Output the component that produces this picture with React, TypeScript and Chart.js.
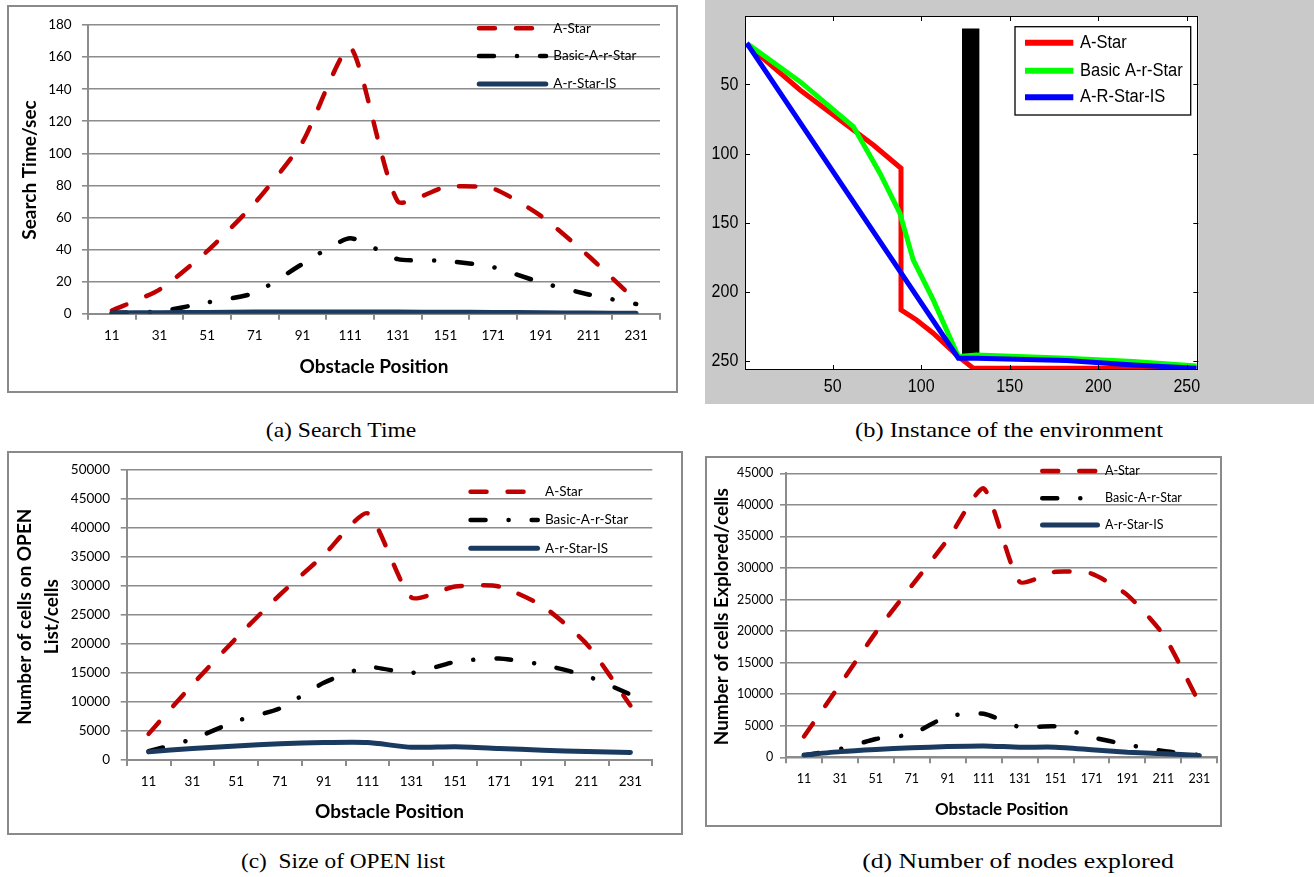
import React, { useEffect, useRef } from 'react';
import { Chart, registerables } from 'chart.js';

Chart.register(...registerables);

// ---------- shared category axis ----------
const obstaclePositions = ['11', '31', '51', '71', '91', '111', '131', '151', '171', '191', '211', '231'];
const excelSeriesNames = ['A-Star', 'Basic-A-r-Star', 'A-r-Star-IS'];

// (a) search time, seconds
const searchTimeAStar = [2, 15, 39, 69, 107, 166, 70, 79, 78, 61, 36, 8];
const searchTimeBasic = [0.5, 1.5, 7, 13, 31, 47, 34, 33, 29, 19.5, 12, 6];
const searchTimeIS = [0.5, 0.6, 0.8, 1, 1, 1, 1, 0.9, 0.8, 0.6, 0.4, 0.3];

// (c) cells on the OPEN list
const openAStar = [4500, 13000, 21000, 28500, 35300, 42500, 28000, 29900, 29900, 26500, 20000, 9400];
const openBasic = [1500, 3600, 6700, 8900, 13300, 16000, 15000, 16900, 17500, 16400, 14500, 11300];
const openIS = [1400, 2000, 2400, 2800, 3000, 3000, 2200, 2300, 2000, 1700, 1450, 1300];

// (d) cells explored
const exploredAStar = [3300, 11500, 19800, 27200, 34500, 42600, 27800, 29400, 29100, 25700, 19400, 8600];
const exploredBasic = [300, 1300, 2900, 3700, 6500, 6900, 4800, 4900, 3200, 2000, 1000, 350];
const exploredIS = [350, 900, 1250, 1500, 1700, 1800, 1600, 1600, 1200, 800, 550, 300];

// (b) paths on the 256x256 grid, [column, row]
const pathSeriesNames = ['A-Star', 'Basic A-r-Star', 'A-R-Star-IS'];
const aStarPath = [[1.5, 21], [31.6, 54], [61.7, 82.9], [73, 93.8], [88.6, 110.6], [88.6, 213], [97.4, 220.3], [106.8, 229.9], [121, 246.8], [129.4, 255.2], [255, 255.2]];
const basicPath = [[1.5, 20.2], [31.6, 48], [61.7, 80.5], [76.7, 114.2], [88, 143.2], [95.5, 176.9], [106.8, 205.8], [121, 246.8], [131.3, 245.6], [182.1, 248], [219.8, 250.4], [255.5, 253.6]];
const isPath = [[1.5, 20.2], [121, 248], [131.3, 248], [182.1, 249.7], [219.8, 252.8], [255.5, 255.2]];
const obstacleColumns = [123, 133];
const obstacleTop = 9.5;
const obstacleBottom = 245.6;
const gridTicks = [50, 100, 150, 200, 250];

// ---------- styles ----------
const GRID = '#8c8c8c';
const EXCEL_RED = '#c00000';
const EXCEL_NAVY = '#1b3a5f';
const EXCEL_FONT = 'Lato, "Open Sans", sans-serif';
const MATLAB_FONT = '"Liberation Sans", Arial, sans-serif';
const A_STAR_DASH = [16, 21];
const BASIC_DASH = [15, 23, 0.1, 23];

type Series = { label: string; data: number[]; color: string; dash: number[]; width: number };

type ExcelSpec = {
  width: number;
  height: number;
  plot: { left: number; top: number; right: number; bottom: number };
  yMax: number;
  yStep: number;
  series: Series[];
  yTitle: string[];
  yTitleX: number[];
  yTitleY: number;
  yTitleSize: number;
  xTitle: string;
  xTitleY: number;
  tickSize: number;
  titleSize: number;
  legendSize: number;
  yLabelPad: number;
  xLabelPad: number;
  legend: { x0: number; x1: number; textX: number; ys: number[] };
};

function makeSeries(a: number[], b: number[], c: number[]): Series[] {
  return [
    { label: excelSeriesNames[0], data: a, color: EXCEL_RED, dash: A_STAR_DASH, width: 4.5 },
    { label: excelSeriesNames[1], data: b, color: '#000000', dash: BASIC_DASH, width: 4.5 },
    { label: excelSeriesNames[2], data: c, color: EXCEL_NAVY, dash: [], width: 5 },
  ];
}

// Frame, axis titles and the in-plot legend of an Excel style panel
function excelDecor(spec: ExcelSpec) {
  return {
    id: 'excelDecor',
    beforeDraw(chart: any) {
      const ctx = chart.ctx;
      ctx.save();
      ctx.fillStyle = '#ffffff';
      ctx.fillRect(0, 0, spec.width, spec.height);
      ctx.strokeStyle = '#8a8a8a';
      ctx.lineWidth = 2;
      ctx.strokeRect(1, 1, spec.width - 2, spec.height - 2);
      ctx.restore();
    },
    afterDraw(chart: any) {
      const ctx = chart.ctx;
      const area = chart.chartArea;
      ctx.save();
      ctx.fillStyle = '#000000';
      ctx.textAlign = 'center';
      ctx.textBaseline = 'middle';
      ctx.font = `bold ${spec.yTitleSize}px ${EXCEL_FONT}`;
      spec.yTitle.forEach((line, i) => {
        ctx.save();
        ctx.translate(spec.yTitleX[i], spec.yTitleY);
        ctx.rotate(-Math.PI / 2);
        ctx.fillText(line, 0, 0);
        ctx.restore();
      });
      ctx.font = `bold ${spec.titleSize}px ${EXCEL_FONT}`;
      ctx.fillText(spec.xTitle, (area.left + area.right) / 2, spec.xTitleY);

      ctx.font = `${spec.legendSize}px ${EXCEL_FONT}`;
      ctx.textAlign = 'left';
      spec.series.forEach((s, i) => {
        const y = spec.legend.ys[i];
        ctx.save();
        ctx.strokeStyle = s.color;
        ctx.lineWidth = s.width;
        ctx.lineCap = 'round';
        ctx.setLineDash(s.dash);
        ctx.beginPath();
        ctx.moveTo(spec.legend.x0 + s.width / 2, y);
        ctx.lineTo(spec.legend.x1 - s.width / 2, y);
        ctx.stroke();
        ctx.restore();
        ctx.fillText(s.label, spec.legend.textX, y);
      });
      ctx.restore();
    },
  };
}

function excelConfig(spec: ExcelSpec): any {
  const tickFont = { family: EXCEL_FONT, size: spec.tickSize };
  const n = spec.series.length;
  return {
    type: 'line',
    data: {
      labels: obstaclePositions,
      datasets: spec.series.map((s, i) => ({
        label: s.label,
        data: s.data,
        borderColor: s.color,
        backgroundColor: s.color,
        borderWidth: s.width,
        borderDash: s.dash,
        borderCapStyle: 'round',
        borderJoinStyle: 'round',
        tension: 0.2,
        pointRadius: 0,
        fill: false,
        order: n - i,
      })),
    },
    options: {
      responsive: false,
      animation: false,
      events: [],
      layout: {
        padding: { top: spec.plot.top, right: spec.width - spec.plot.right, bottom: 0, left: 0 },
        autoPadding: false,
      },
      plugins: { legend: { display: false }, tooltip: { enabled: false } },
      scales: {
        x: {
          offset: true,
          grid: { offset: true, drawOnChartArea: false, drawTicks: true, tickLength: 6, color: GRID, lineWidth: 2 },
          border: { display: true, color: GRID, width: 2 },
          ticks: { font: tickFont, color: '#000000', padding: spec.xLabelPad, maxRotation: 0, autoSkip: false },
          afterFit: (s: any) => {
            s.height = spec.height - spec.plot.bottom;
          },
        },
        y: {
          min: 0,
          max: spec.yMax,
          ticks: {
            stepSize: spec.yStep,
            font: tickFont,
            color: '#000000',
            padding: spec.yLabelPad,
            callback: (v: any) => String(v),
          },
          grid: { color: GRID, lineWidth: 1.6, drawTicks: true, tickLength: 6 },
          border: { display: true, color: GRID, width: 2 },
          afterFit: (s: any) => {
            s.width = spec.plot.left;
          },
        },
      },
    },
    plugins: [excelDecor(spec)],
  };
}

const panelA: ExcelSpec = {
  width: 671,
  height: 388,
  plot: { left: 81, top: 20, right: 653, bottom: 308.7 },
  yMax: 180,
  yStep: 20,
  series: makeSeries(searchTimeAStar, searchTimeBasic, searchTimeIS),
  yTitle: ['Search Time/sec'],
  yTitleX: [23],
  yTitleY: 165,
  yTitleSize: 19,
  xTitle: 'Obstacle Position',
  xTitleY: 361.7,
  tickSize: 13.5,
  titleSize: 19,
  legendSize: 13.5,
  yLabelPad: 10.3,
  xLabelPad: 8,
  legend: { x0: 469.7, x1: 541.3, textX: 546.3, ys: [23.3, 51, 79] },
};

const panelC: ExcelSpec = {
  width: 676,
  height: 384,
  plot: { left: 119.7, top: 17.3, right: 645.3, bottom: 309 },
  yMax: 50000,
  yStep: 5000,
  series: makeSeries(openAStar, openBasic, openIS),
  yTitle: ['Number of cells on OPEN', 'List/cells'],
  yTitleX: [18, 44.7],
  yTitleY: 165.7,
  yTitleSize: 19,
  xTitle: 'Obstacle Position',
  xTitleY: 360.7,
  tickSize: 13.5,
  titleSize: 19,
  legendSize: 13.5,
  yLabelPad: 10.7,
  xLabelPad: 8,
  legend: { x0: 461.3, x1: 533, textX: 538, ys: [40.7, 69, 97.3] },
};

const panelD: ExcelSpec = {
  width: 517,
  height: 371,
  plot: { left: 81, top: 17.3, right: 512.3, bottom: 301.3 },
  yMax: 45000,
  yStep: 5000,
  series: makeSeries(exploredAStar, exploredBasic, exploredIS),
  yTitle: ['Number of cells Explored/cells'],
  yTitleX: [16.7],
  yTitleY: 160.7,
  yTitleSize: 19,
  xTitle: 'Obstacle Position',
  xTitleY: 353.3,
  tickSize: 12.5,
  titleSize: 17,
  legendSize: 12.5,
  yLabelPad: 6.7,
  xLabelPad: 8,
  legend: { x0: 335, x1: 395, textX: 400, ys: [15, 42.3, 69] },
};

// ---------- (b) grid environment ----------
const B_W = 609;
const B_H = 404;
const B_PLOT = { left: 40, top: 16, right: 493.3, bottom: 370 };

const pathSeries = [
  { label: pathSeriesNames[0], path: aStarPath, color: '#ff0000', order: 3 },
  { label: pathSeriesNames[1], path: basicPath, color: '#00ff00', order: 2 },
  { label: pathSeriesNames[2], path: isPath, color: '#0000ff', order: 1 },
];

const envDecor = {
  id: 'envDecor',
  beforeDraw(chart: any) {
    const ctx = chart.ctx;
    const a = chart.chartArea;
    ctx.save();
    ctx.fillStyle = '#c9c9c9';
    ctx.fillRect(0, 0, B_W, B_H);
    ctx.fillStyle = '#ffffff';
    ctx.fillRect(a.left, a.top, a.right - a.left, a.bottom - a.top);
    ctx.restore();
  },
  afterDatasetsDraw(chart: any) {
    const ctx = chart.ctx;
    const a = chart.chartArea;
    const xs = chart.scales.x;
    const ys = chart.scales.y;
    ctx.save();
    ctx.strokeStyle = '#000000';
    ctx.lineWidth = 1;
    ctx.strokeRect(Math.round(a.left) + 0.5, Math.round(a.top) + 0.5, Math.round(a.right - a.left) - 1, Math.round(a.bottom - a.top) - 1);
    ctx.beginPath();
    gridTicks.forEach((v) => {
      const px = Math.round(xs.getPixelForValue(v)) + 0.5;
      ctx.moveTo(px, a.bottom);
      ctx.lineTo(px, a.bottom - 5);
      ctx.moveTo(px, a.top);
      ctx.lineTo(px, a.top + 5);
      const py = Math.round(ys.getPixelForValue(v)) + 0.5;
      ctx.moveTo(a.left, py);
      ctx.lineTo(a.left + 5, py);
      ctx.moveTo(a.right, py);
      ctx.lineTo(a.right - 5, py);
    });
    ctx.stroke();

    // tick labels
    ctx.fillStyle = '#000000';
    ctx.font = `16px ${MATLAB_FONT}`;
    ctx.textBaseline = 'middle';
    gridTicks.forEach((v) => {
      ctx.save();
      ctx.textAlign = 'center';
      ctx.translate(xs.getPixelForValue(v), a.bottom + 16.7);
      ctx.scale(1, 1.2);
      ctx.fillText(String(v), 0, 0);
      ctx.restore();
      ctx.save();
      ctx.textAlign = 'right';
      ctx.translate(a.left - 6.7, ys.getPixelForValue(v));
      ctx.scale(1, 1.2);
      ctx.fillText(String(v), 0, 0);
      ctx.restore();
    });

    // legend box
    const box = { left: 310, top: 26.7, right: 485.7, bottom: 115 };
    ctx.fillStyle = '#ffffff';
    ctx.fillRect(box.left, box.top, box.right - box.left, box.bottom - box.top);
    ctx.strokeStyle = '#000000';
    ctx.lineWidth = 1.3;
    ctx.strokeRect(box.left, box.top, box.right - box.left, box.bottom - box.top);
    const rows = [42.7, 70.7, 97.3];
    ctx.font = `16.5px ${MATLAB_FONT}`;
    ctx.textAlign = 'left';
    pathSeries.forEach((s, i) => {
      ctx.strokeStyle = s.color;
      ctx.lineWidth = 6;
      ctx.beginPath();
      ctx.moveTo(320, rows[i]);
      ctx.lineTo(368.3, rows[i]);
      ctx.stroke();
      ctx.fillStyle = '#000000';
      ctx.save();
      ctx.translate(375, rows[i]);
      ctx.scale(1, 1.1);
      ctx.fillText(s.label, 0, 0);
      ctx.restore();
    });
    ctx.restore();
  },
};

function envConfig(): any {
  const pinTicks = (s: any) => {
    s.ticks = gridTicks.map((v) => ({ value: v }));
  };
  return {
    type: 'scatter',
    data: {
      datasets: [
        {
          label: 'obstacle',
          data: obstacleColumns.map((x) => ({ x, y: obstacleTop })),
          showLine: true,
          borderWidth: 0,
          borderColor: '#000000',
          backgroundColor: '#000000',
          pointRadius: 0,
          fill: { value: obstacleBottom },
          order: 4,
        },
        ...pathSeries.map((s) => ({
          label: s.label,
          data: s.path.map(([x, y]) => ({ x, y })),
          showLine: true,
          borderColor: s.color,
          backgroundColor: s.color,
          borderWidth: 5,
          borderJoinStyle: 'miter',
          pointRadius: 0,
          fill: false,
          tension: 0,
          order: s.order,
        })),
      ],
    },
    options: {
      responsive: false,
      animation: false,
      events: [],
      layout: {
        padding: { top: B_PLOT.top, right: B_W - B_PLOT.right, bottom: 0, left: 0 },
        autoPadding: false,
      },
      plugins: { legend: { display: false }, tooltip: { enabled: false } },
      scales: {
        x: {
          type: 'linear',
          min: 0.5,
          max: 256.5,
          afterBuildTicks: pinTicks,
          grid: { display: false, drawTicks: false },
          border: { display: false },
          ticks: { display: false },
          afterFit: (s: any) => {
            s.height = B_H - B_PLOT.bottom;
          },
        },
        y: {
          type: 'linear',
          reverse: true,
          min: 0.5,
          max: 256.5,
          afterBuildTicks: pinTicks,
          grid: { display: false, drawTicks: false },
          border: { display: false },
          ticks: { display: false },
          afterFit: (s: any) => {
            s.width = B_PLOT.left;
          },
        },
      },
    },
    plugins: [envDecor],
  };
}

const makeA = () => excelConfig(panelA);
const makeC = () => excelConfig(panelC);
const makeD = () => excelConfig(panelD);

function ChartCanvas({ x, y, w, h, make }: { x: number; y: number; w: number; h: number; make: () => any }) {
  const ref = useRef<HTMLCanvasElement>(null);
  useEffect(() => {
    const chart = new Chart(ref.current as HTMLCanvasElement, make());
    return () => chart.destroy();
  }, [make]);
  return (
    <canvas
      ref={ref}
      width={w}
      height={h}
      style={{ position: 'absolute', left: x, top: y, width: w, height: h, display: 'block' }}
    />
  );
}

function Caption({ text, cx, baseline, stretch }: { text: string; cx: number; baseline: number; stretch: number }) {
  return (
    <div
      style={{
        position: 'absolute',
        left: cx - 250,
        width: 500,
        top: baseline - 18.4,
        textAlign: 'center',
        fontFamily: '"Liberation Serif", "Times New Roman", serif',
        fontSize: 22,
        lineHeight: '22px',
        whiteSpace: 'pre',
        color: '#000',
        transform: `scaleX(${stretch})`,
      }}
    >
      {text}
    </div>
  );
}

export default function App() {
  return (
    <div style={{ position: 'absolute', left: 0, top: 0, width: 1314, height: 877, background: '#ffffff', overflow: 'hidden' }}>
      <ChartCanvas x={7} y={5} w={panelA.width} h={panelA.height} make={makeA} />
      <ChartCanvas x={705} y={0} w={B_W} h={B_H} make={envConfig} />
      <ChartCanvas x={7} y={451} w={panelC.width} h={panelC.height} make={makeC} />
      <ChartCanvas x={705} y={456} w={panelD.width} h={panelD.height} make={makeD} />
      <Caption text="(a) Search Time" cx={341} baseline={437.3} stretch={1.07} />
      <Caption text="(b) Instance of the environment" cx={1009} baseline={437.3} stretch={1.11} />
      <Caption text="(c)  Size of OPEN list" cx={342.5} baseline={868.7} stretch={1.06} />
      <Caption text="(d) Number of nodes explored" cx={1017.5} baseline={868.7} stretch={1.17} />
    </div>
  );
}
